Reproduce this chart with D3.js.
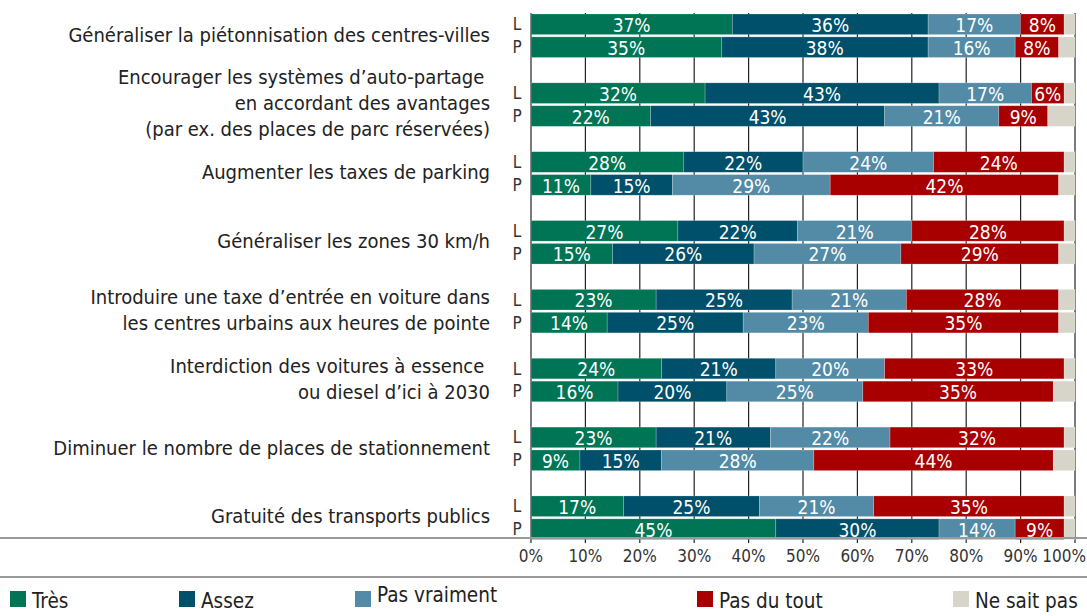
<!DOCTYPE html>
<html>
<head>
<meta charset="utf-8">
<script src="https://cdn.jsdelivr.net/npm/d3@7"></script>
<style>
  body { margin: 0; background: #fff; }
  text { font-family: "Liberation Sans Narrow", "DejaVu Sans Condensed", sans-serif; }
</style>
</head>
<body>
<script>

// data

const questions = [
  ["Généraliser la piétonnisation des centres-villes"],
  ["Encourager les systèmes d’auto-partage ", "en accordant des avantages", "(par ex. des places de parc réservées)"],
  ["Augmenter les taxes de parking"],
  ["Généraliser les zones 30 km/h"],
  ["Introduire une taxe d’entrée en voiture dans", "les centres urbains aux heures de pointe"],
  ["Interdiction des voitures à essence ", "ou diesel d’ici à 2030"],
  ["Diminuer le nombre de places de stationnement"],
  ["Gratuité des transports publics"]
];
const rows = ["L", "P"];
const categories = ["Très", "Assez", "Pas vraiment", "Pas du tout", "Ne sait pas"];
const colors = ["#007556", "#00506b", "#538ba6", "#a80000", "#d7d4c9"];

// values per question, L then P
const tres_L = [37, 32, 28, 27, 23, 24, 23, 17];
const tres_P = [35, 22, 11, 15, 14, 16, 9, 45];
const assez_L = [36, 43, 22, 22, 25, 21, 21, 25];
const assez_P = [38, 43, 15, 26, 25, 20, 15, 30];
const pasVraiment_L = [17, 17, 24, 21, 21, 20, 22, 21];
const pasVraiment_P = [16, 21, 29, 27, 23, 25, 28, 14];
const pasDuTout_L = [8, 6, 24, 28, 28, 33, 32, 35];
const pasDuTout_P = [8, 9, 42, 29, 35, 35, 44, 9];
const neSaitPas_L = [2, 2, 2, 2, 3, 2, 2, 2];
const neSaitPas_P = [3, 5, 3, 3, 3, 4, 4, 2];

const ticks = [0, 10, 20, 30, 40, 50, 60, 70, 80, 90, 100];

const w = 1087;
const h = 616;

const series = {
  L: [tres_L, assez_L, pasVraiment_L, pasDuTout_L, neSaitPas_L],
  P: [tres_P, assez_P, pasVraiment_P, pasDuTout_P, neSaitPas_P]
};

// scales

const xScale = d3.scaleLinear()
    .domain([0, 100])
    .range([531, 1075]);

const groupScale = d3.scaleBand()
    .domain(d3.range(questions.length))
    .range([14, 14 + 8 * 68.85]);

const rowScale = d3.scaleBand()
    .domain(rows)
    .range([0, 43.5])
    .paddingInner(0.1);

// flatten into segments
const segments = [];
questions.forEach((q, i) => {
  rows.forEach(r => {
    let x0 = 0;
    categories.forEach((c, k) => {
      const v = series[r][k][i];
      segments.push({q: i, row: r, cat: k, x0: x0, x1: x0 + v, value: v});
      x0 += v;
    });
  });
});

// svg

const svg = d3.select("body")
  .append("svg")
    .attr("width", w)
    .attr("height", h);

// grid lines (under bars)

svg.append("g")
    .selectAll("line")
    .data(ticks)
  .enter().append("line")
    .attr("x1", d => xScale(d))
    .attr("x2", d => xScale(d))
    .attr("y1", 13)
    .attr("y2", 543)
    .attr("stroke", "#222")
    .attr("stroke-width", 1.2);

// bars

const plot = svg.append("g").attr("id", "plot");

plot.selectAll("rect")
    .data(segments)
  .enter().append("rect")
    .attr("x", d => xScale(d.x0))
    .attr("y", d => groupScale(d.q) + rowScale(d.row))
    .attr("width", d => xScale(d.x1) - xScale(d.x0))
    .attr("height", rowScale.bandwidth())
    .attr("fill", d => colors[d.cat])
    .attr("stroke", "#fff")
    .attr("stroke-opacity", 0.35)
    .attr("stroke-width", 0.6);

plot.selectAll("text.value")
    .data(segments.filter(d => d.cat < 4))
  .enter().append("text")
    .attr("class", "value")
    .attr("x", d => xScale((d.x0 + d.x1) / 2))
    .attr("y", d => groupScale(d.q) + rowScale(d.row) + rowScale.bandwidth() / 2 + 1)
    .attr("dy", "0.35em")
    .attr("text-anchor", "middle")
    .attr("fill", "#fff")
    .attr("font-size", 19)
    .text(d => d.value + "%");

// L / P labels

questions.forEach((q, i) => {
  svg.append("g")
    .selectAll("text")
    .data(rows)
  .enter().append("text")
    .attr("x", 517)
    .attr("y", d => groupScale(i) + rowScale(d) + rowScale.bandwidth() / 2)
    .attr("dy", "0.35em")
    .attr("text-anchor", "middle")
    .attr("fill", "#333")
    .attr("font-size", 17)
    .text(d => d);
});

// question labels

const lineH = 26;
questions.forEach((q, i) => {
  const cy = groupScale(i) + 20.5;
  const t = svg.append("text")
      .attr("text-anchor", "end")
      .attr("fill", "#222")
      .attr("font-size", 20);
  q.forEach((line, j) => {
    t.append("tspan")
      .attr("x", 490)
      .attr("y", cy + (j - (q.length - 1) / 2) * lineH)
      .attr("dy", "0.35em")
      .text(line);
  });
});

// axis lines

svg.append("line")
    .attr("x1", 0).attr("x2", w)
    .attr("y1", 538).attr("y2", 538)
    .attr("stroke", "#999")
    .attr("stroke-width", 2);

svg.append("line")
    .attr("x1", 0).attr("x2", w)
    .attr("y1", 577).attr("y2", 577)
    .attr("stroke", "#999")
    .attr("stroke-width", 2);

// tick labels

svg.append("g")
    .selectAll("text")
    .data(ticks)
  .enter().append("text")
    .attr("x", d => d === 100 ? w - 1 : xScale(d))
    .attr("y", 556)
    .attr("dy", "0.35em")
    .attr("text-anchor", d => d === 100 ? "end" : "middle")
    .attr("fill", "#333")
    .attr("font-size", 17)
    .text(d => d + "%");

// legend

const legendX = [10, 179, 355, 697, 953];
const legendDy = [0, 0, -6, 0, 0];

const legend = svg.append("g")
    .selectAll("g")
    .data(categories)
  .enter().append("g")
    .attr("transform", (d, i) => `translate (${legendX[i]}, 591)`);

legend.append("rect")
    .attr("width", 16)
    .attr("height", 16)
    .attr("fill", (d, i) => colors[i]);

legend.append("text")
    .attr("x", 22)
    .attr("y", (d, i) => 10 + legendDy[i])
    .attr("dy", "0.35em")
    .attr("fill", "#222")
    .attr("font-size", 20.5)
    .text(d => d);

</script>
</body>
</html>
